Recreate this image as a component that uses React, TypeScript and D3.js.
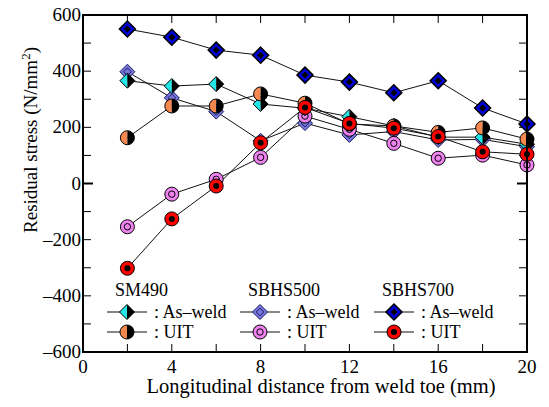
import React from "react";
import * as d3 from "d3";

// distance from weld toe (mm)
const distances = [2, 4, 6, 8, 10, 12, 14, 16, 18, 20];

// residual stress (N/mm2)
const sm490Weld = [366, 347, 354, 283, 268, 238, 205, 165, 165, 140];
const sm490Uit = [163, 276, 276, 319, 286, 212, 205, 182, 198, 158];
const sbhs500Weld = [398, 305, 256, 152, 215, 173, 185, 155, 157, 131];
const sbhs500Uit = [-154, -38, 15, 93, 240, 193, 143, 90, 101, 66];
const sbhs700Weld = [550, 521, 475, 457, 386, 361, 323, 366, 269, 212];
const sbhs700Uit = [-302, -126, -9, 145, 271, 214, 197, 167, 113, 104];

const xTickLabels = [0, 4, 8, 12, 16, 20];
const yTickLabels = [-600, -400, -200, 0, 200, 400, 600];

const width = 549;
const height = 407;
const margin = { top: 15, right: 22, bottom: 55, left: 83 };
const font = "'Liberation Serif', 'Times New Roman', serif";

type MarkerKind =
  | "halfDiamond"
  | "halfCircle"
  | "diamondInner"
  | "ringCircle"
  | "diamondDot"
  | "dotCircle";

// drawing order: later ones sit on top
const series: { name: string; values: number[]; kind: MarkerKind }[] = [
  { name: "sbhs500Weld", values: sbhs500Weld, kind: "diamondInner" },
  { name: "sbhs500Uit", values: sbhs500Uit, kind: "ringCircle" },
  { name: "sm490Weld", values: sm490Weld, kind: "halfDiamond" },
  { name: "sm490Uit", values: sm490Uit, kind: "halfCircle" },
  { name: "sbhs700Weld", values: sbhs700Weld, kind: "diamondDot" },
  { name: "sbhs700Uit", values: sbhs700Uit, kind: "dotCircle" },
];

function Marker({ kind, x, y }: { kind: MarkerKind; x: number; y: number }) {
  const s = 7.5;
  const r = 7;
  const diamond = (d: number) => `M0,${-d}L${d},0L0,${d}L${-d},0Z`;
  let body: React.ReactNode = null;
  if (kind === "halfDiamond") {
    body = (
      <>
        <path d={`M0,${-s}L${-s},0L0,${s}Z`} fill="#22e6e6" />
        <path d={`M0,${-s}L${s},0L0,${s}Z`} fill="#000" />
        <path d={diamond(s)} fill="none" stroke="#000" strokeWidth={1} />
      </>
    );
  } else if (kind === "halfCircle") {
    body = (
      <>
        <path d={`M0,${-r}A${r},${r} 0 0 0 0,${r}Z`} fill="#f5884e" />
        <path d={`M0,${-r}A${r},${r} 0 0 1 0,${r}Z`} fill="#000" />
        <circle r={r} fill="none" stroke="#000" strokeWidth={1} />
      </>
    );
  } else if (kind === "diamondInner") {
    body = (
      <>
        <path d={diamond(s)} fill="#7878dc" stroke="#1a1a60" strokeWidth={1} />
        <path d={diamond(3.8)} fill="none" stroke="#1a1a60" strokeWidth={1} />
      </>
    );
  } else if (kind === "ringCircle") {
    body = (
      <>
        <circle r={r} fill="#ee82ee" stroke="#000" strokeWidth={1} />
        <circle r={3.2} fill="none" stroke="#000" strokeWidth={1} />
      </>
    );
  } else if (kind === "diamondDot") {
    body = (
      <>
        <path d={diamond(s + 0.5)} fill="#0000d8" stroke="#000" strokeWidth={1.5} />
        <path d={diamond(3.5)} fill="#000" />
      </>
    );
  } else {
    body = (
      <>
        <circle r={r} fill="#ff0000" stroke="#000" strokeWidth={1} />
        <circle r={3} fill="#000" />
      </>
    );
  }
  return <g transform={`translate(${x},${y})`}>{body}</g>;
}

export default function App() {
  const innerW = width - margin.left - margin.right;
  const innerH = height - margin.top - margin.bottom;
  const x = d3.scaleLinear().domain([0, 20]).range([margin.left, margin.left + innerW]);
  const y = d3.scaleLinear().domain([-600, 600]).range([margin.top + innerH, margin.top]);

  const line = d3
    .line<number>()
    .x((_, i) => x(distances[i]))
    .y((d) => y(d));

  const xTicks = d3.range(0, 21, 2);
  const yTicks = d3.range(-600, 601, 100);
  const x0 = x(0);
  const x1 = x(20);
  const y0 = y(-600);
  const y1 = y(600);
  const fmt = (v: number) => (v < 0 ? "\u2013" + Math.abs(v) : String(v));

  // legend layout
  const legendCols = [
    { title: "SM490", weld: "halfDiamond", uit: "halfCircle", x: 107 },
    { title: "SBHS500", weld: "diamondInner", uit: "ringCircle", x: 240 },
    { title: "SBHS700", weld: "diamondDot", uit: "dotCircle", x: 374 },
  ] as const;
  const rowY = [312, 332];

  return (
    <svg
      width={width}
      height={height}
      style={{ position: "absolute", left: 0, top: 0, background: "#fff" }}
      fontFamily={font}
    >
      <rect width={width} height={height} fill="#fff" />

      {/* ticks */}
      {xTicks.map((t) => (
        <g key={"xt" + t}>
          <line x1={x(t)} x2={x(t)} y1={y0} y2={y0 - 8} stroke="#000" strokeWidth={1} />
          <line x1={x(t)} x2={x(t)} y1={y1} y2={y1 + 8} stroke="#000" strokeWidth={1} />
        </g>
      ))}
      {yTicks.map((t) => {
        const major = t === 0;
        const len = major ? 10 : 8;
        return (
          <g key={"yt" + t}>
            <line x1={x0} x2={x0 + len} y1={y(t)} y2={y(t)} stroke="#000" strokeWidth={major ? 2 : 1} />
            <line x1={x1} x2={x1 - len} y1={y(t)} y2={y(t)} stroke="#000" strokeWidth={major ? 2 : 1} />
          </g>
        );
      })}

      {/* series lines */}
      {series.map((s) => (
        <path key={"l" + s.name} d={line(s.values) || ""} fill="none" stroke="#111" strokeWidth={1} />
      ))}
      {/* markers */}
      {series.map((s) => (
        <g key={"m" + s.name}>
          {s.values.map((v, i) => (
            <Marker key={i} kind={s.kind} x={x(distances[i])} y={y(v)} />
          ))}
        </g>
      ))}

      {/* frame */}
      <rect x={x0} y={y1} width={x1 - x0} height={y0 - y1} fill="none" stroke="#000" strokeWidth={2} />

      {/* tick labels */}
      {xTickLabels.map((t) => (
        <text key={"xl" + t} x={x(t)} y={y0 + 21} textAnchor="middle" fontSize={19}>
          {t}
        </text>
      ))}
      {yTickLabels.map((t) => (
        <text key={"yl" + t} x={x0 - 2} y={y(t) + 6} textAnchor="end" fontSize={19}>
          {fmt(t)}
        </text>
      ))}

      {/* axis titles */}
      <text x={(x0 + x1) / 2 + 16} y={393} textAnchor="middle" fontSize={20.5}>
        Longitudinal distance from weld toe (mm)
      </text>
      <text transform={`translate(37,${140}) rotate(-90)`} textAnchor="middle" fontSize={19}>
        Residual stress (N/mm
        <tspan dy={-7} fontSize={13}>2</tspan>
        <tspan dy={7}>)</tspan>
      </text>

      {/* legend */}
      {legendCols.map((c) => (
        <g key={c.title}>
          <text x={c.x + 8} y={296} fontSize={18}>
            {c.title}
          </text>
          {[c.weld, c.uit].map((k, i) => (
            <g key={k}>
              <line x1={c.x} x2={c.x + 40} y1={rowY[i]} y2={rowY[i]} stroke="#111" strokeWidth={1} />
              <Marker kind={k as MarkerKind} x={c.x + 20} y={rowY[i]} />
              <text x={c.x + 47} y={rowY[i] + 6} fontSize={18}>
                {i === 0 ? ": As\u2013weld" : ": UIT"}
              </text>
            </g>
          ))}
        </g>
      ))}
    </svg>
  );
}
